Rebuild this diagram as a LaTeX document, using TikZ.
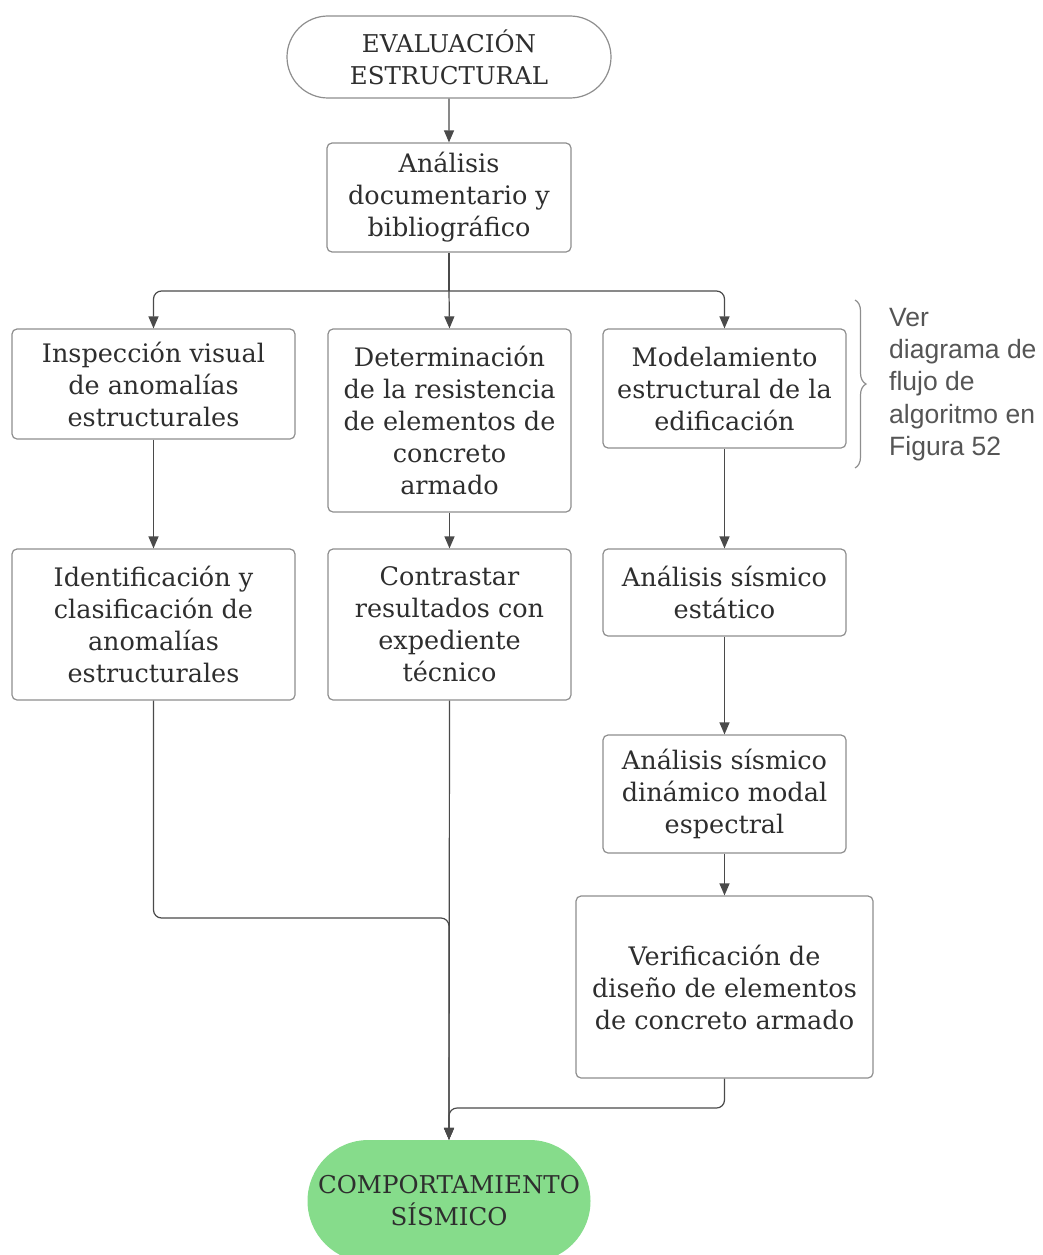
\documentclass[tikz,border=0pt]{standalone}
\usepackage{fontspec}
\setmainfont{DejaVu Serif}
\newfontfamily\notefont{Liberation Sans}
\usetikzlibrary{shapes.misc, arrows.meta, decorations.pathreplacing}
\definecolor{linegray}{HTML}{8E8E8E}
\definecolor{arrowgray}{HTML}{4A4A4A}
\definecolor{textgray}{HTML}{2E2E2E}
\definecolor{notegray}{HTML}{555555}
\definecolor{greenfill}{HTML}{86DC8B}

\begin{document}
\begin{tikzpicture}[x=1pt,y=-1pt]
	\tikzstyle{box}=[draw=linegray, line width=1.2pt, rounded corners=5pt, align=center, text=textgray, inner sep=0pt, font=\fontsize{25.5}{32}\selectfont]
	\tikzstyle{terminal}=[rounded rectangle, align=center, text=textgray, inner sep=0pt, font=\fontsize{24.5}{32}\selectfont]
	\tikzstyle{flow}=[draw=arrowgray, line width=1.2pt, rounded corners=8pt, -{Triangle[width=10pt,length=12pt]}]
	\useasboundingbox (0,0) rectangle (1042,1255);
	% inicio y fin
	\node (start) [terminal, draw=linegray, line width=1.2pt, minimum width=324pt, minimum height=82pt] at (449,57) {EVALUACIÓN\\ESTRUCTURAL};
	\node (fin) [terminal, fill=greenfill, minimum width=283pt, minimum height=122pt] at (449,1201) {COMPORTAMIENTO\\SÍSMICO};
	\node (doc) [box, minimum width=244pt, minimum height=109pt] at (449,197.5) {Análisis\\documentario y\\bibliográfico};
	% primera fila
	\node (insp) [box, minimum width=283pt, minimum height=110pt] at (153.5,384) {Inspección visual\\de anomalías\\estructurales};
	\node (resist) [box, minimum width=243pt, minimum height=183pt] at (449.5,420.5) {Determinación\\de la resistencia\\de elementos de\\concreto\\armado};
	\node (model) [box, minimum width=243pt, minimum height=119pt] at (724.5,388.5) {Modelamiento\\estructural de la\\edificación};
	% segunda fila
	\node (ident) [box, minimum width=283pt, minimum height=151pt] at (153.5,624.5) {Identificación y\\clasificación de\\anomalías\\estructurales};
	\node (contr) [box, minimum width=243pt, minimum height=151pt] at (449.5,624.5) {Contrastar\\resultados con\\expediente\\técnico};
	\node (estat) [box, minimum width=243pt, minimum height=87pt] at (724.5,592.5) {Análisis sísmico\\estático};
	\node (dinam) [box, minimum width=243pt, minimum height=118pt] at (724.5,794) {Análisis sísmico\\dinámico modal\\espectral};
	\node (verif) [box, minimum width=297pt, minimum height=182pt] at (724.5,987) {Verificación de\\diseño de elementos\\de concreto armado};
	% nota lateral
	\draw[linegray, line width=1.2pt, decorate, decoration={brace, amplitude=11pt}] (855,300) -- (855,468);
	\node (nota) [anchor=north west, align=left, text=notegray, inner sep=0pt, font=\notefont\fontsize{26.5}{32.2}\selectfont] at (889,308) {Ver\\diagrama de\\flujo de\\algoritmo en\\Figura 52};
	% conectores
	\coordinate (split) at (449,291);
	\coordinate (joinL) at (449,918);
	\coordinate (joinR) at (449,1108);
	\draw[flow] (start) -- (doc);
	\draw[draw=arrowgray, line width=1.2pt] (doc.south) -- (split);
	\draw[flow] (split) -| (insp.north);
	\draw[flow] (split) -- (resist.north);
	\draw[flow] (split) -| (model.north);
	\draw[flow] (insp) -- (ident);
	\draw[flow] (resist) -- (contr);
	\draw[flow] (model) -- (estat);
	\draw[flow] (estat) -- (dinam);
	\draw[flow] (dinam) -- (verif);
	\draw[flow] (ident.south) |- (joinL) -- (fin.north);
	\draw[flow] (contr.south) -- (fin.north);
	\draw[flow] (verif.south) |- (joinR) -- (fin.north);
\end{tikzpicture}
\end{document}
